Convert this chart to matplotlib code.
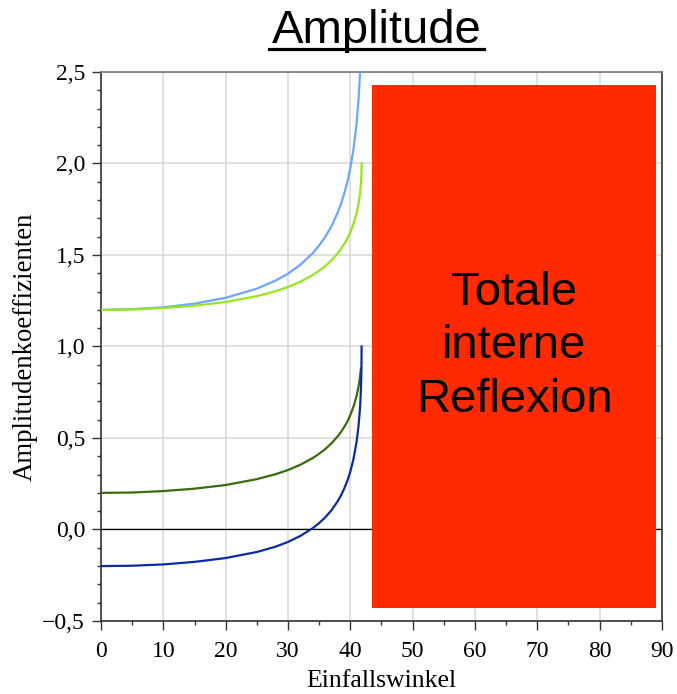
import matplotlib
matplotlib.use('Agg')
import matplotlib.pyplot as plt
from matplotlib.patches import Rectangle
from matplotlib.lines import Line2D
from matplotlib.ticker import MultipleLocator, FuncFormatter

# Einfallswinkel (Grad) and amplitude coefficients
angles = [0, 5, 10, 15, 20, 25, 28, 30, 32, 34, 35, 36, 37, 38, 38.5, 39,
          39.5, 40, 40.5, 41, 41.3, 41.5, 41.6, 41.7, 41.78, 41.81]
t_p = [1.200, 1.204, 1.214, 1.234, 1.266, 1.316, 1.360, 1.398, 1.447, 1.511,
       1.552, 1.600, 1.659, 1.734, 1.779, 1.833, 1.896, 1.975, 2.076, 2.217,
       2.341, 2.458, 2.539]
t_s = [1.200, 1.202, 1.210, 1.223, 1.243, 1.275, 1.302, 1.325, 1.354, 1.391,
       1.414, 1.440, 1.472, 1.510, 1.533, 1.559, 1.588, 1.625, 1.670, 1.729,
       1.778, 1.822, 1.850, 1.889, 1.940, 2.000]
r_s = [0.200, 0.202, 0.210, 0.223, 0.243, 0.275, 0.302, 0.325, 0.354, 0.391,
       0.414, 0.440, 0.472, 0.510, 0.533, 0.559, 0.588, 0.625, 0.670, 0.729,
       0.778, 0.822, 0.850, 0.880]
r_p = [-0.200, -0.198, -0.191, -0.177, -0.156, -0.123, -0.094, -0.068, -0.035,
       0.008, 0.035, 0.067, 0.106, 0.156, 0.186, 0.222, 0.264, 0.316, 0.384,
       0.478, 0.561, 0.639, 0.690, 0.767, 0.870, 1.000]

fig = plt.figure(figsize=(6.77, 6.94), dpi=100)
ax = fig.add_axes([0.1492, 0.1052, 0.8286, 0.7911])

ax.plot(angles[:len(t_p)], t_p, color='#6ea6ff', lw=1.6, zorder=3)
ax.plot(angles[:len(t_s)], t_s, color='#96e61e', lw=1.6, zorder=3)
ax.plot(angles[:len(r_s)], r_s, color='#3a6b0c', lw=1.6, zorder=3)
ax.plot(angles[:len(r_p)], r_p, color='#0a2c9e', lw=1.6, zorder=3)

ax.axhline(0, color='black', lw=0.9, zorder=2)

ax.set_xlim(0, 90)
ax.set_ylim(-0.5, 2.5)
ax.xaxis.set_major_locator(MultipleLocator(10))
ax.xaxis.set_minor_locator(MultipleLocator(5))
ax.yaxis.set_major_locator(MultipleLocator(0.5))
ax.yaxis.set_minor_locator(MultipleLocator(0.1))


def comma_fmt(v, pos):
    s = f'{abs(v):.1f}'.replace('.', ',')
    return ('\u2212' + s) if v < -1e-9 else s


ax.yaxis.set_major_formatter(FuncFormatter(comma_fmt))
ax.grid(True, which='major', color='#dadada', lw=1.2, zorder=0)
ax.set_axisbelow(True)

for side in ['left', 'bottom', 'right']:
    ax.spines[side].set_color('#333333')
    ax.spines[side].set_linewidth(1.2)
ax.spines['top'].set_color('#777777')
ax.spines['top'].set_linewidth(1.2)

ax.tick_params(which='major', length=6.5, width=1, color='#333333', pad=5,
               labelsize=17)
ax.tick_params(axis='x', which='major', pad=8)
ax.tick_params(which='minor', length=3, width=1, color='#333333')
for lab in ax.get_xticklabels() + ax.get_yticklabels():
    lab.set_fontfamily('Liberation Serif')

ax.set_xlabel('Einfallswinkel', fontsize=18.5, family='Liberation Serif',
              labelpad=6)
ax.set_ylabel('Amplitudenkoeffizienten', fontsize=19.3,
              family='Liberation Serif', labelpad=3)

# red overlay box
ax.add_patch(Rectangle((43.5, -0.43), 45.6, 2.86, facecolor='#ff2a00',
                       edgecolor='none', zorder=5))
ax.text(66.3, 1.0, 'Totale\ninterne\nReflexion', ha='center', va='center',
        fontsize=34, family='Liberation Sans', linespacing=1.28, zorder=6)

# underlined title
title = fig.text(0.556, 1 - 43 / 694, 'Amplitude', ha='center',
                 va='baseline', fontsize=34, family='Liberation Sans')
fig.canvas.draw()
bb = title.get_window_extent().transformed(fig.transFigure.inverted())
y_line = 1 - 48.5 / 694
ext = 3 / 677
fig.add_artist(Line2D([bb.x0 - ext, bb.x1 + ext], [y_line, y_line],
                      color='black', lw=2.3, transform=fig.transFigure))

fig.savefig('out.png', dpi=100)
